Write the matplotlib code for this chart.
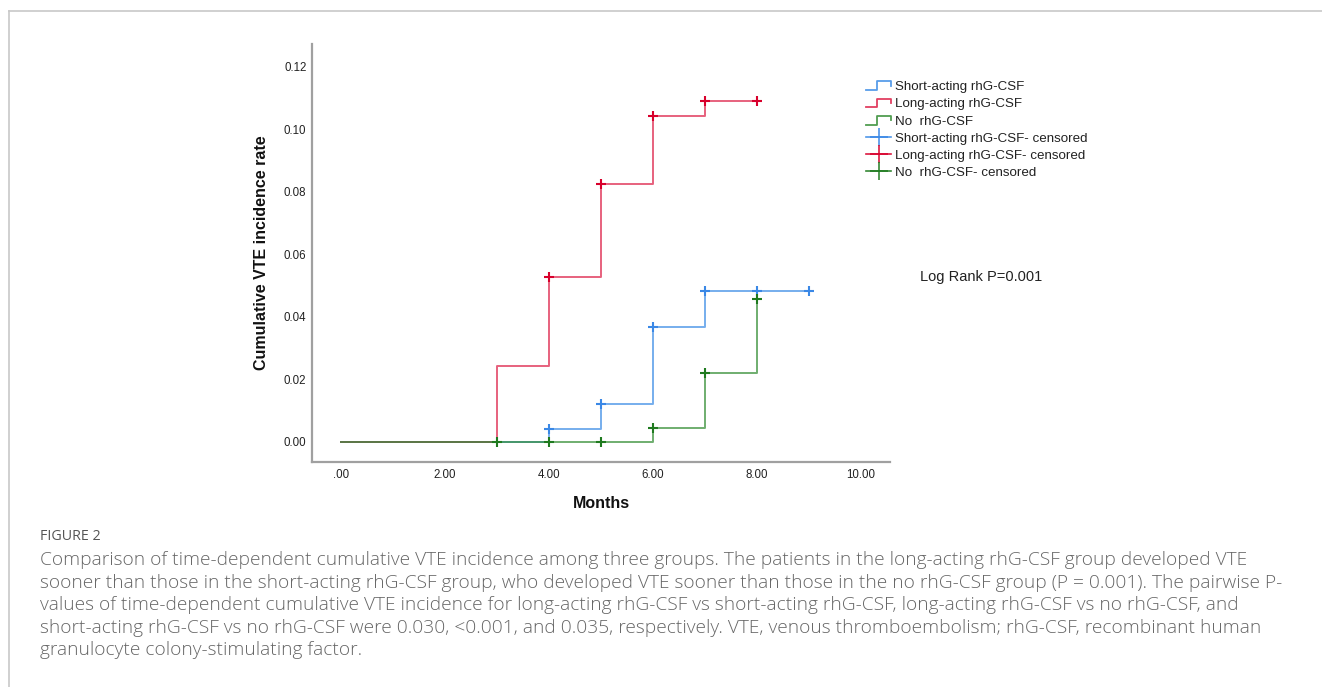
import matplotlib
matplotlib.use("Agg")
import matplotlib.pyplot as plt
from matplotlib.lines import Line2D
from matplotlib.legend_handler import HandlerBase

# ---------------- data ----------------
short_t = [0, 4, 5, 6, 7, 9]
short_y = [0.0, 0.0040, 0.0120, 0.0367, 0.0482, 0.0482]
short_cens_t = [4, 5, 6, 7, 8, 9]
short_cens_y = [0.0040, 0.0120, 0.0367, 0.0482, 0.0482, 0.0482]

long_t = [0, 3, 4, 5, 6, 7, 8]
long_y = [0.0, 0.0242, 0.0528, 0.0824, 0.1043, 0.1091, 0.1091]
long_cens_t = [4, 5, 6, 7, 8]
long_cens_y = [0.0528, 0.0824, 0.1043, 0.1091, 0.1091]

no_t = [0, 6, 7, 8]
no_y = [0.0, 0.0042, 0.0220, 0.0455]
no_cens_t = [3, 4, 5, 6, 7, 8]
no_cens_y = [0.0, 0.0, 0.0, 0.0042, 0.0220, 0.0455]

x_ticks = [0, 2, 4, 6, 8, 10]
x_ticklabels = [".00", "2.00", "4.00", "6.00", "8.00", "10.00"]
y_ticks = [0.00, 0.02, 0.04, 0.06, 0.08, 0.10, 0.12]
y_ticklabels = ["0.00", "0.02", "0.04", "0.06", "0.08", "0.10", "0.12"]

legend_labels = ["Short-acting rhG-CSF", "Long-acting rhG-CSF", "No  rhG-CSF",
                 "Short-acting rhG-CSF- censored", "Long-acting rhG-CSF- censored",
                 "No  rhG-CSF- censored"]

caption_title = "FIGURE 2"
caption_lines = [
    "Comparison of time-dependent cumulative VTE incidence among three groups. The patients in the long-acting rhG-CSF group developed VTE",
    "sooner than those in the short-acting rhG-CSF group, who developed VTE sooner than those in the no rhG-CSF group (P = 0.001). The pairwise P-",
    "values of time-dependent cumulative VTE incidence for long-acting rhG-CSF vs short-acting rhG-CSF, long-acting rhG-CSF vs no rhG-CSF, and",
    "short-acting rhG-CSF vs no rhG-CSF were 0.030, <0.001, and 0.035, respectively. VTE, venous thromboembolism; rhG-CSF, recombinant human",
    "granulocyte colony-stimulating factor.",
]

# ---------------- style ----------------
W, H = 1322, 687
DPI = 100
c_blue_line, c_blue_mk = "#3c8ce6", "#3a88e6"
c_red_line, c_red_mk = "#dc1e46", "#d8002c"
c_green_line, c_green_mk = "#328c32", "#1f7a1f"
axis_col = "#a0a0a0"
FONT = "Liberation Sans"

fig = plt.figure(figsize=(W / DPI, H / DPI), dpi=DPI)
fig.patch.set_facecolor("white")

def fx(px):
    return px / W

def fy(py):
    return 1 - py / H

ax_l, ax_r, ax_t, ax_b = 312, 890, 44, 462
ax = fig.add_axes([fx(ax_l), fy(ax_b), fx(ax_r - ax_l), (ax_b - ax_t) / H])

# x: .00 at 341px, 10 at 861px ; y: 0 at 441.5px, 0.12 at 66.7px
xppu = (861 - 341) / 10.0
yppu = (441.5 - 66.7) / 0.12
ax.set_xlim(-(341 - ax_l) / xppu, 10 + (ax_r - 861) / xppu)
ax.set_ylim(-(ax_b - 441.5) / yppu, (441.5 - ax_t) / yppu)

lw = 1.4
alpha = 0.7
ax.step(short_t, short_y, where="post", color=c_blue_line, lw=lw, alpha=alpha, zorder=2)
ax.step(long_t, long_y, where="post", color=c_red_line, lw=lw, alpha=alpha, zorder=3)
ax.step(no_t, no_y, where="post", color=c_green_line, lw=lw, alpha=alpha, zorder=4)

ms, mew = 7.5, 1.5
ax.plot(short_cens_t, short_cens_y, ls="none", marker="+", ms=ms, mew=mew, color=c_blue_mk, zorder=5)
ax.plot(long_cens_t, long_cens_y, ls="none", marker="+", ms=ms, mew=mew, color=c_red_mk, zorder=6)
ax.plot(no_cens_t, no_cens_y, ls="none", marker="+", ms=ms, mew=mew, color=c_green_mk, zorder=7)

for s in ["top", "right"]:
    ax.spines[s].set_visible(False)
for s in ["left", "bottom"]:
    ax.spines[s].set_color(axis_col)
    ax.spines[s].set_linewidth(1.6)

ax.set_xticks(x_ticks)
ax.set_xticklabels(x_ticklabels, fontfamily=FONT, fontsize=8.3, color="#222222")
ax.set_yticks(y_ticks)
ax.set_yticklabels(y_ticklabels, fontfamily=FONT, fontsize=8.3, color="#222222")
ax.tick_params(axis="both", length=0)
ax.tick_params(axis="y", pad=4)
ax.tick_params(axis="x", pad=5)

ax.set_xlabel("Months", fontfamily=FONT, fontsize=11.5, fontweight="bold", color="#111111")
ax.xaxis.set_label_coords(0.5, (ax_b - 503) / (ax_b - ax_t))
ax.xaxis.label.set_va("center")
ax.set_ylabel("Cumulative VTE incidence rate", fontfamily=FONT, fontsize=11.5,
              fontweight="bold", color="#111111")
ax.yaxis.set_label_coords((262 - ax_l) / (ax_r - ax_l), 0.5)
ax.yaxis.label.set_va("center")


# ---------------- legend ----------------
class StepHandle:
    def __init__(self, color):
        self.color = color


class HandlerStep(HandlerBase):
    def create_artists(self, legend, orig_handle, xdescent, ydescent,
                       width, height, fontsize, trans):
        x0 = -xdescent
        y0 = -ydescent
        xs = [x0, x0 + 0.45 * width, x0 + 0.45 * width, x0 + width, x0 + width]
        ys = [y0 + 0.0 * height, y0 + 0.0 * height, y0 + 0.95 * height,
              y0 + 0.95 * height, y0 + 0.45 * height]
        ln = Line2D(xs, ys, color=orig_handle.color, lw=1.3, alpha=0.85, transform=trans)
        return [ln]


handles = [StepHandle(c_blue_line), StepHandle(c_red_line), StepHandle(c_green_line),
           Line2D([], [], color=c_blue_line, lw=1.2, marker="+", ms=13, mew=1.2,
                  markeredgecolor=c_blue_mk, alpha=0.9),
           Line2D([], [], color=c_red_mk, lw=1.2, marker="+", ms=13, mew=1.2, alpha=0.9),
           Line2D([], [], color=c_green_mk, lw=1.2, marker="+", ms=13, mew=1.2, alpha=0.9)]

leg = fig.legend(handles, legend_labels, loc="upper left",
                 bbox_to_anchor=(fx(866), fy(81)), frameon=False,
                 handler_map={StepHandle: HandlerStep()},
                 prop={"family": FONT, "size": 9.6},
                 handlelength=1.9, handletextpad=0.25, labelspacing=0.36,
                 borderpad=0, borderaxespad=0)
for t in leg.get_texts():
    t.set_color("#222222")

fig.text(fx(920), fy(277), "Log Rank P=0.001", fontfamily=FONT, fontsize=10.5,
         color="#222222", ha="left", va="center")

# ---------------- frame & caption ----------------
fig.add_artist(Line2D([fx(9), 1], [fy(10.5), fy(10.5)], color="#c8c8c8", lw=1.2))
fig.add_artist(Line2D([fx(9), fx(9)], [fy(10.5), 0], color="#c8c8c8", lw=1.2))

CAP_FONT = "Open Sans"
cap_col = "#666666"
fig.text(fx(40), fy(537), caption_title, fontfamily=CAP_FONT, fontsize=10.3,
         color="#555555", ha="left", va="center")
cap_texts = []
for i, line in enumerate(caption_lines):
    cap_texts.append(fig.text(fx(40), fy(560 + 22.6 * i), line, fontfamily=CAP_FONT,
                              fontweight="light", fontsize=12, color=cap_col,
                              ha="left", va="center"))

# fit caption size so the first line spans the same width as in the reference
renderer = fig.canvas.get_renderer()
w0 = cap_texts[0].get_window_extent(renderer).width
target = 1248 - 40
new_size = 12 * target / w0
for t in cap_texts:
    t.set_fontsize(new_size)

fig.savefig("out.png", dpi=DPI)
